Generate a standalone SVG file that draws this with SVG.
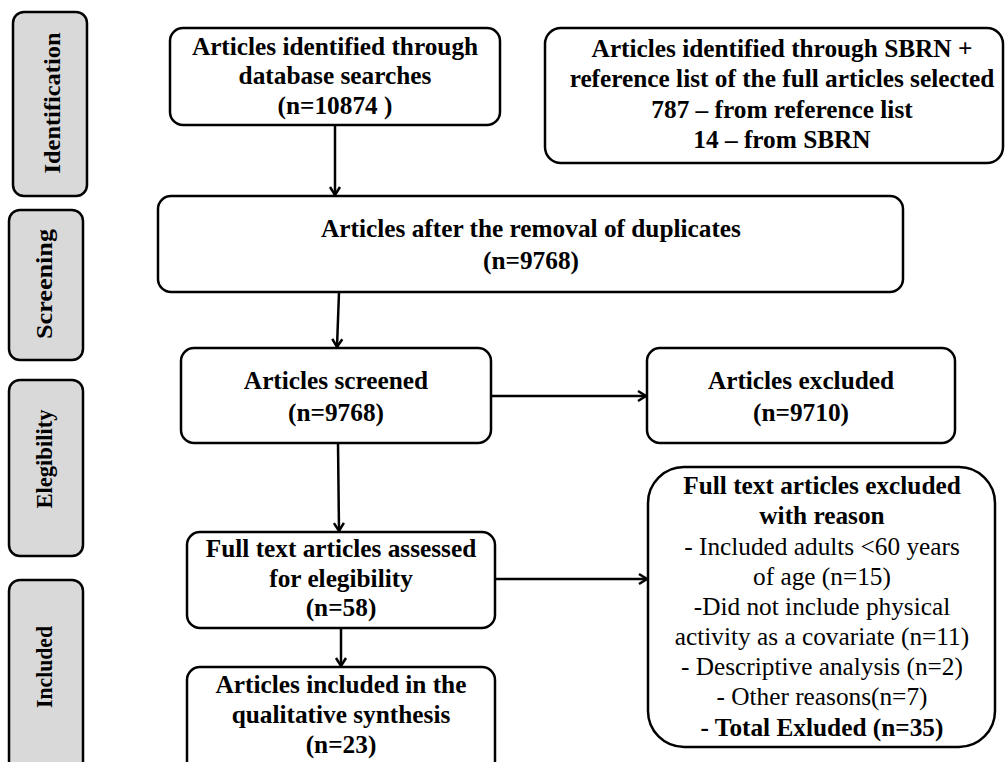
<svg xmlns="http://www.w3.org/2000/svg" width="1005" height="762" viewBox="0 0 1005 762">
<style>
.side{fill:#d9d9d9;stroke:#000;stroke-width:2.5}
.box{fill:#fff;stroke:#000;stroke-width:2.5}
.t{font-family:"Liberation Serif","Times New Roman",serif;font-size:25.3px;text-anchor:middle;fill:#000}
.b{font-weight:bold}
.st{font-family:"Liberation Serif","Times New Roman",serif;font-size:23px;font-weight:bold;text-anchor:middle;fill:#000}
.c{fill:none;stroke:#000;stroke-width:2.5}
</style>
<defs>
<marker id="ah" markerUnits="userSpaceOnUse" markerWidth="14" markerHeight="14" refX="11" refY="7" orient="auto">
<path d="M3,2 L11,7 L3,12" fill="none" stroke="#000" stroke-width="2.5"/>
</marker>
</defs>
<rect width="1005" height="762" fill="#fff"/>
<g id="side-identification"><rect class="side" x="13" y="12" width="74" height="184" rx="11"/><text class="st" transform="translate(60,103) rotate(-90)" textLength="141" lengthAdjust="spacingAndGlyphs">Identification</text></g>
<g id="side-screening"><rect class="side" x="9" y="210" width="74" height="150" rx="11"/><text class="st" transform="translate(52,284) rotate(-90)" textLength="110" lengthAdjust="spacingAndGlyphs">Screening</text></g>
<g id="side-elegibility"><rect class="side" x="9" y="380" width="74" height="176" rx="11"/><text class="st" transform="translate(52,459) rotate(-90)" textLength="99" lengthAdjust="spacingAndGlyphs">Elegibility</text></g>
<g id="side-included"><rect class="side" x="9" y="580" width="74" height="200" rx="11"/><text class="st" transform="translate(52,667) rotate(-90)" textLength="82" lengthAdjust="spacingAndGlyphs">Included</text></g>

<g id="n-database"><rect class="box" x="170" y="28" width="330" height="97" rx="13"/>
<text class="t b" x="335" y="55">Articles identified through</text>
<text class="t b" x="335" y="84">database searches</text>
<text class="t b" x="335" y="114">(n=10874 )</text></g>

<g id="n-sbrn"><rect class="box" x="545" y="28" width="458" height="135" rx="16"/>
<text class="t b" x="782" y="57">Articles identified through SBRN +</text>
<text class="t b" x="782" y="87">reference list of the full articles selected</text>
<text class="t b" x="782" y="118">787 – from reference list</text>
<text class="t b" x="782" y="148">14 – from SBRN</text></g>

<g id="n-duplicates"><rect class="box" x="158" y="196" width="745" height="96" rx="13"/>
<text class="t b" x="531" y="237">Articles after the removal of duplicates</text>
<text class="t b" x="531" y="269">(n=9768)</text></g>

<g id="n-screened"><rect class="box" x="181" y="348" width="310" height="95" rx="13"/>
<text class="t b" x="336" y="389">Articles screened</text>
<text class="t b" x="336" y="421">(n=9768)</text></g>

<g id="n-excluded"><rect class="box" x="647" y="348" width="308" height="95" rx="13"/>
<text class="t b" x="801" y="389">Articles excluded</text>
<text class="t b" x="801" y="421">(n=9710)</text></g>

<g id="n-fulltext"><rect class="box" x="187" y="532" width="308" height="96" rx="13"/>
<text class="t b" x="341" y="557">Full text articles assessed</text>
<text class="t b" x="341" y="587">for elegibility</text>
<text class="t b" x="341" y="616">(n=58)</text></g>

<g id="n-included"><rect class="box" x="187" y="667" width="308" height="110" rx="13"/>
<text class="t b" x="341" y="693">Articles included in the</text>
<text class="t b" x="341" y="723">qualitative synthesis</text>
<text class="t b" x="341" y="753">(n=23)</text></g>

<g id="n-reasons"><rect class="box" x="648" y="467" width="347" height="280" rx="36"/>
<text class="t b" x="822" y="494">Full text articles excluded</text>
<text class="t b" x="822" y="524">with reason</text>
<text class="t" x="822" y="555">- Included adults &lt;60 years</text>
<text class="t" x="822" y="585">of age (n=15)</text>
<text class="t" x="822" y="615">-Did not include physical</text>
<text class="t" x="822" y="645">activity as a covariate (n=11)</text>
<text class="t" x="822" y="675">- Descriptive analysis (n=2)</text>
<text class="t" x="822" y="705">- Other reasons(n=7)</text>
<text class="t b" x="822" y="736">- Total Exluded (n=35)</text></g>

<g id="connectors">
<line class="c" x1="335" y1="125" x2="335" y2="195" marker-end="url(#ah)"/>
<line class="c" x1="339" y1="292" x2="337" y2="347" marker-end="url(#ah)"/>
<line class="c" x1="491" y1="396" x2="646" y2="396" marker-end="url(#ah)"/>
<line class="c" x1="338" y1="443" x2="339" y2="531" marker-end="url(#ah)"/>
<line class="c" x1="495" y1="579" x2="647" y2="579" marker-end="url(#ah)"/>
<line class="c" x1="341" y1="628" x2="341" y2="666" marker-end="url(#ah)"/>
</g>
</svg>
